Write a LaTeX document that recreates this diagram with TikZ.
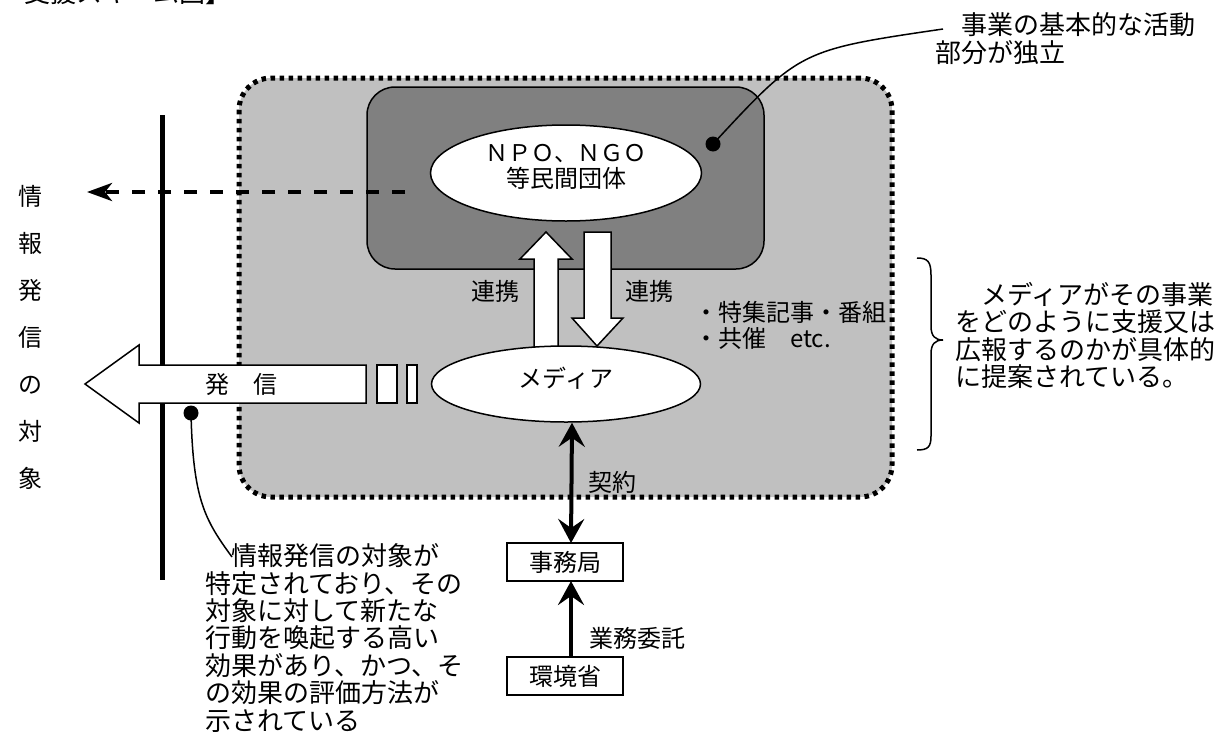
\documentclass[tikz,border=0pt]{standalone}
\usepackage{fontspec}
\setmainfont{Noto Sans CJK JP}
\usetikzlibrary{shapes.geometric,arrows.meta}
\definecolor{lightg}{gray}{0.753}
\definecolor{darkg}{gray}{0.502}
\begin{document}
\begin{tikzpicture}[x=1pt,y=-1pt,
  lbl/.style={inner sep=0pt, font=\fontsize{24}{26}\selectfont},
  ann/.style={inner sep=0pt, align=left, anchor=west, font=\fontsize{26}{27.4}\selectfont},
  oval/.style={ellipse, draw, line width=1.5pt, fill=white, inner sep=0pt},
  smallbox/.style={draw, line width=1.5pt, fill=white, minimum width=116pt, minimum height=38pt, inner sep=0pt, font=\fontsize{24}{26}\selectfont},
  hollow/.style={draw, line width=1.5pt, fill=white, line join=miter},
  blackdot/.style={circle, fill=black, inner sep=0pt, minimum size=15pt},
  leader/.style={line width=1.5pt},
  thickarrow/.style={line width=4pt}
]
\useasboundingbox (0,0) rectangle (1226,731);

% partial title cut at top
\begin{scope}
\clip (0,0) rectangle (1226,731);
\node[inner sep=0pt, anchor=base east, font=\fontsize{26}{28}\selectfont] (title) at (232,2) {支援スキーム図】};
\end{scope}

% outer dotted region
\node[draw, fill=lightg, rounded corners=32pt, line width=5pt, dash pattern=on 4.5pt off 4.5pt,
      minimum width=653pt, minimum height=419pt, inner sep=0pt] (outer) at (565.5,287.5) {};
% inner dark region
\node[draw, fill=darkg, rounded corners=28pt, line width=1.5pt,
      minimum width=397pt, minimum height=182pt, inner sep=0pt] (inner) at (565.5,178) {};

% dashed arrow
\coordinate (dashstart) at (405,192);
\coordinate (dashend) at (87,192);
\draw[line width=4pt, dash pattern=on 13pt off 13pt, -{Stealth[length=25pt,width=18pt,inset=7pt]}] (dashstart) -- (dashend);

% hollow arrows between NPO and media
\draw[hollow] (534,352) -- (534,259) -- (520,259) -- (546,232) -- (572,259) -- (558,259) -- (558,352);
\draw[hollow] (584,232) -- (611,232) -- (611,318) -- (623,318) -- (597,346) -- (572,318) -- (584,318) -- cycle;

% ellipses
\node[oval, minimum width=271pt, minimum height=96pt] (npo) at (566,173) {};
\node[lbl, align=center] (npotxt) at (566,166.5) {{\fontsize{23}{27}\selectfont ＮＰＯ、ＮＧＯ}\\等民間団体};
\node[oval, minimum width=269pt, minimum height=76pt] (media) at (566,384) {};
\node[lbl] (mediatxt) at (566,378) {メディア};

% vertical line
\coordinate (vtop) at (162,115);
\coordinate (vbot) at (162,580);
\draw[line width=5pt] (vtop) -- (vbot);

% big hollow arrow 発信
\draw[hollow] (366,365) -- (139,365) -- (139,345) -- (85,384) -- (139,423) -- (139,403) -- (366,403) -- cycle;
\node[lbl] (hasshin) at (241,384) {発\hspace{1em}信};
\node[draw, line width=1.5pt, fill=white, minimum width=20pt, minimum height=38pt, inner sep=0pt] (r1) at (387,384) {};
\node[draw, line width=1.5pt, fill=white, minimum width=10pt, minimum height=38pt, inner sep=0pt] (r2) at (412,384) {};

% labels
\node[lbl] (renkei1) at (495,291) {連携};
\node[lbl] (renkei2) at (649,291) {連携};
\node[lbl, align=left, anchor=west, font=\fontsize{24}{26}\selectfont] (tokushu) at (694,325.5) {・特集記事・番組\\・共催\hspace{1em}etc.};

% vertical text
\node[inner sep=0pt, align=center, font=\fontsize{24}{47}\selectfont] (vtext) at (30,337) {情\\報\\発\\信\\の\\対\\象};

% brace
\draw[line width=1.5pt] (917,258) .. controls (928,258) and (931,262) .. (931,275) -- (931,326)
  .. controls (931,336) and (935,340) .. (943,340) .. controls (935,340) and (931,344) .. (931,354)
  -- (931,436) .. controls (931,447) and (928,450) .. (917,450);

% annotations
\node[ann] (annright) at (955,335.5) {\hspace*{1em}メディアがその事業\\をどのように支援又は\\広報するのかが具体的\\に提案されている。};
\node[ann] (anntop) at (935,38.5) {\hspace*{1em}事業の基本的な活動\\部分が独立};
\node[ann] (annbottom) at (205,638) {\hspace*{1em}情報発信の対象が\\特定されており、その\\対象に対して新たな\\行動を喚起する高い\\効果があり、かつ、そ\\の効果の評価方法が\\示されている};

% dots and leaders
\node[blackdot] (dot1) at (713,144) {};
\coordinate (lead1) at (943,29);
\draw[leader] (dot1.center) .. controls (800,50) .. (lead1);
\node[blackdot] (dot2) at (191,413) {};
\coordinate (lead2) at (232,557);
\draw[leader] (dot2.center) .. controls (193,500) and (205,520) .. (lead2);

% office boxes
\node[smallbox] (jimu) at (565,562) {事務局};
\node[smallbox] (kankyo) at (565,676) {環境省};
\draw[thickarrow, {Stealth[length=24pt,width=26pt,inset=9pt]}-{Stealth[length=24pt,width=26pt,inset=9pt]}] ([xshift=6pt]media.south) -- ([xshift=6pt,yshift=-0.75pt]jimu.north);
\draw[thickarrow, -{Stealth[length=24pt,width=26pt,inset=9pt]}] ([xshift=6pt,yshift=-0.75pt]kankyo.north) -- ([xshift=6pt,yshift=0.75pt]jimu.south);
\node[lbl] (keiyaku) at (612,482) {契約};
\node[lbl] (gyomu) at (637,638) {業務委託};
\end{tikzpicture}
\end{document}
